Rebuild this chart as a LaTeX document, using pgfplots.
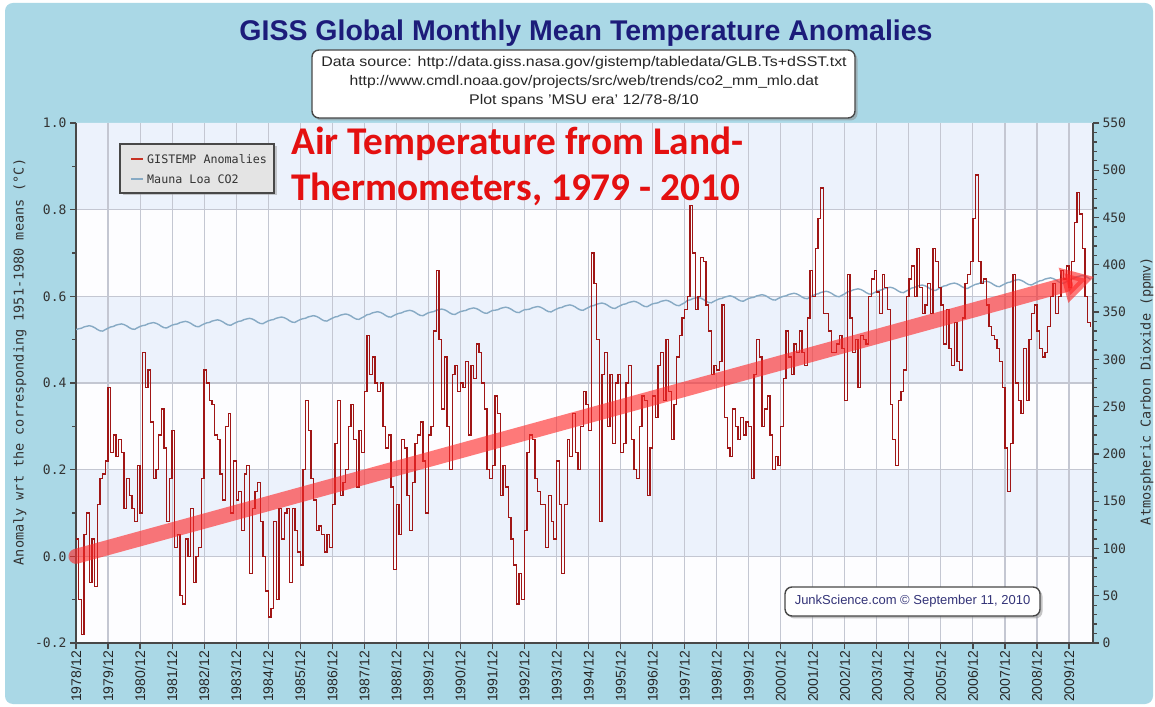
\documentclass[border=0pt]{standalone}
\usepackage{pgfplots}
\pgfplotsset{compat=1.18}
\usepackage{pgfplotstable}
\usepackage{fontspec}
\setmainfont{Liberation Sans}
\newfontfamily\monofont{DejaVu Sans Mono}
\newfontfamily\calfont{Carlito}
\usetikzlibrary{shadows,arrows.meta}

\definecolor{bgblue}{RGB}{170,216,230}
\definecolor{bandblue}{RGB}{236,242,252}
\definecolor{bandwhite}{RGB}{253,253,255}
\definecolor{gridc}{RGB}{196,199,210}
\definecolor{titleblue}{RGB}{28,28,122}
\definecolor{tempred}{RGB}{160,22,22}
\definecolor{co2blue}{RGB}{135,170,196}
\definecolor{arrowred}{RGB}{255,40,40}
\definecolor{annred}{RGB}{228,16,16}
\definecolor{axisgrey}{RGB}{72,72,72}
\definecolor{legendgrey}{RGB}{228,228,228}
\definecolor{navytext}{RGB}{52,52,120}
\definecolor{legred}{RGB}{200,50,35}

\pgfplotstableread{
m t c
0 0.04 331.5
1 -0.10 332.4
2 -0.18 332.9
3 0.05 334.3
4 0.10 335.0
5 -0.06 335.6
6 0.04 334.9
7 -0.07 333.5
8 0.12 331.6
9 0.18 330.2
10 0.19 329.9
11 0.22 331.5
12 0.39 332.9
13 0.24 334.3
14 0.28 334.8
15 0.23 336.2
16 0.27 336.9
17 0.24 337.5
18 0.11 336.8
19 0.18 335.4
20 0.14 333.5
21 0.11 332.1
22 0.08 331.8
23 0.21 333.4
24 0.10 334.8
25 0.47 335.7
26 0.39 336.2
27 0.43 337.6
28 0.31 338.3
29 0.18 338.9
30 0.20 338.2
31 0.28 336.8
32 0.34 334.9
33 0.25 333.5
34 0.08 333.2
35 0.18 334.8
36 0.29 336.2
37 0.02 337.0
38 0.05 337.5
39 -0.09 338.9
40 -0.11 339.6
41 0.04 340.2
42 0.00 339.5
43 0.11 338.1
44 -0.06 336.2
45 0.00 334.8
46 0.02 334.5
47 0.18 336.1
48 0.43 337.5
49 0.40 338.6
50 0.36 339.1
51 0.35 340.5
52 0.28 341.2
53 0.27 341.8
54 0.19 341.1
55 0.13 339.7
56 0.30 337.8
57 0.33 336.4
58 0.10 336.1
59 0.22 337.7
60 0.13 339.1
61 0.15 340.2
62 0.06 340.7
63 0.19 342.1
64 0.21 342.8
65 -0.04 343.4
66 0.11 342.7
67 0.15 341.3
68 0.17 339.4
69 0.08 338.0
70 0.00 337.7
71 -0.08 339.3
72 -0.14 340.7
73 -0.12 341.6
74 0.08 342.1
75 -0.10 343.5
76 0.11 344.2
77 0.04 344.8
78 0.10 344.1
79 0.11 342.7
80 -0.06 340.8
81 0.11 339.4
82 0.06 339.1
83 0.01 340.7
84 -0.02 342.1
85 0.20 343.0
86 0.36 343.5
87 0.29 344.9
88 0.18 345.6
89 0.13 346.2
90 0.06 345.5
91 0.07 344.1
92 0.05 342.2
93 0.01 340.8
94 0.05 340.5
95 0.02 342.1
96 0.12 343.5
97 0.26 344.8
98 0.36 345.3
99 0.14 346.7
100 0.17 347.4
101 0.20 348.0
102 0.30 347.3
103 0.35 345.9
104 0.27 344.0
105 0.16 342.6
106 0.29 342.3
107 0.24 343.9
108 0.38 345.3
109 0.51 347.2
110 0.42 347.7
111 0.46 349.1
112 0.40 349.8
113 0.38 350.4
114 0.40 349.7
115 0.30 348.3
116 0.25 346.4
117 0.28 345.0
118 0.16 344.7
119 -0.03 346.3
120 0.12 347.7
121 0.05 348.7
122 0.27 349.2
123 0.25 350.6
124 0.14 351.3
125 0.06 351.9
126 0.17 351.2
127 0.26 349.8
128 0.28 347.9
129 0.31 346.5
130 0.22 346.2
131 0.10 347.8
132 0.28 349.2
133 0.30 350.0
134 0.52 350.5
135 0.66 351.9
136 0.50 352.6
137 0.34 353.2
138 0.46 352.5
139 0.30 351.1
140 0.20 349.2
141 0.42 347.8
142 0.44 347.5
143 0.38 349.1
144 0.40 350.5
145 0.39 351.2
146 0.45 351.7
147 0.28 353.1
148 0.44 353.8
149 0.41 354.4
150 0.49 353.7
151 0.47 352.3
152 0.40 350.4
153 0.34 349.0
154 0.20 348.7
155 0.18 350.3
156 0.21 351.7
157 0.37 352.0
158 0.33 352.5
159 0.14 353.9
160 0.21 354.6
161 0.16 355.2
162 0.09 354.5
163 0.04 353.1
164 -0.02 351.2
165 -0.11 349.8
166 -0.04 349.5
167 -0.10 351.1
168 0.06 352.5
169 0.24 352.7
170 0.28 353.2
171 0.27 354.6
172 0.18 355.3
173 0.15 355.9
174 0.12 355.2
175 0.12 353.8
176 0.02 351.9
177 0.14 350.5
178 0.08 350.2
179 0.04 351.8
180 0.22 353.2
181 0.12 354.4
182 -0.04 354.9
183 0.12 356.3
184 0.27 357.0
185 0.23 357.6
186 0.33 356.9
187 0.24 355.5
188 0.20 353.6
189 0.30 352.2
190 0.38 351.9
191 0.35 353.5
192 0.29 354.9
193 0.70 356.4
194 0.63 356.9
195 0.50 358.3
196 0.08 359.0
197 0.42 359.6
198 0.47 358.9
199 0.30 357.5
200 0.42 355.6
201 0.26 354.2
202 0.40 353.9
203 0.42 355.5
204 0.24 356.9
205 0.26 358.2
206 0.40 358.7
207 0.44 360.1
208 0.27 360.8
209 0.20 361.4
210 0.18 360.7
211 0.30 359.3
212 0.37 357.4
213 0.36 356.0
214 0.14 355.7
215 0.25 357.3
216 0.37 358.7
217 0.32 359.3
218 0.44 359.8
219 0.47 361.2
220 0.36 361.9
221 0.50 362.5
222 0.38 361.8
223 0.27 360.4
224 0.35 358.5
225 0.46 357.1
226 0.51 356.8
227 0.55 358.4
228 0.57 359.8
229 0.60 362.3
230 0.81 362.8
231 0.70 364.2
232 0.57 364.9
233 0.60 365.5
234 0.69 364.8
235 0.68 363.4
236 0.58 361.5
237 0.52 360.1
238 0.42 359.8
239 0.44 361.4
240 0.43 362.8
241 0.45 364.0
242 0.58 364.5
243 0.32 365.9
244 0.25 366.6
245 0.23 367.2
246 0.34 366.5
247 0.30 365.1
248 0.27 363.2
249 0.32 361.8
250 0.28 361.5
251 0.31 363.1
252 0.30 364.5
253 0.18 365.2
254 0.42 365.7
255 0.50 367.1
256 0.46 367.8
257 0.30 368.4
258 0.34 367.7
259 0.37 366.3
260 0.28 364.4
261 0.20 363.0
262 0.23 362.7
263 0.21 364.3
264 0.30 365.7
265 0.41 366.7
266 0.52 367.2
267 0.46 368.6
268 0.42 369.3
269 0.49 369.9
270 0.47 369.2
271 0.52 367.8
272 0.47 365.9
273 0.44 364.5
274 0.55 364.2
275 0.66 365.8
276 0.60 367.2
277 0.71 368.8
278 0.78 369.3
279 0.85 370.7
280 0.56 371.4
281 0.56 372.0
282 0.52 371.3
283 0.47 369.9
284 0.47 368.0
285 0.49 366.6
286 0.51 366.3
287 0.48 367.9
288 0.36 369.3
289 0.65 371.4
290 0.55 371.9
291 0.47 373.3
292 0.50 374.0
293 0.39 374.6
294 0.51 373.9
295 0.50 372.5
296 0.49 370.6
297 0.60 369.2
298 0.64 368.9
299 0.66 370.5
300 0.61 371.9
301 0.56 373.1
302 0.65 373.6
303 0.62 375.0
304 0.57 375.7
305 0.35 376.3
306 0.27 375.6
307 0.21 374.2
308 0.36 372.3
309 0.38 370.9
310 0.43 370.6
311 0.60 372.2
312 0.64 373.6
313 0.67 375.4
314 0.60 375.9
315 0.71 377.3
316 0.62 378.0
317 0.56 378.6
318 0.58 377.9
319 0.63 376.5
320 0.56 374.6
321 0.71 373.2
322 0.68 372.9
323 0.62 374.5
324 0.58 375.9
325 0.49 377.5
326 0.57 378.0
327 0.48 379.4
328 0.44 380.1
329 0.54 380.7
330 0.45 380.0
331 0.43 378.6
332 0.55 376.7
333 0.63 375.3
334 0.65 375.0
335 0.68 376.6
336 0.78 378.0
337 0.88 379.4
338 0.68 379.9
339 0.63 381.3
340 0.64 382.0
341 0.58 382.6
342 0.53 381.9
343 0.51 380.5
344 0.50 378.6
345 0.48 377.2
346 0.45 376.9
347 0.39 378.5
348 0.25 379.9
349 0.15 381.2
350 0.26 381.7
351 0.65 383.1
352 0.40 383.8
353 0.36 384.4
354 0.33 383.7
355 0.48 382.3
356 0.36 380.4
357 0.50 379.0
358 0.56 378.7
359 0.58 380.3
360 0.52 381.7
361 0.48 383.0
362 0.46 383.5
363 0.47 384.9
364 0.53 385.6
365 0.60 386.2
366 0.63 385.5
367 0.56 384.1
368 0.60 382.2
369 0.66 380.8
370 0.64 380.5
371 0.67 382.1
372 0.62 383.5
373 0.68 385.5
374 0.77 386.0
375 0.84 387.4
376 0.79 388.1
377 0.71 388.7
378 0.60 388.0
379 0.54 386.6
380 0.53 384.7
}\data

\begin{document}
\begin{tikzpicture}[x=1pt,y=1pt]
\useasboundingbox (0,0) rectangle (1155,706);
\fill[white] (0,0) rectangle (1155,706);
\fill[bgblue,rounded corners=8pt] (5,2) rectangle (1153,703);

% title
\node[anchor=base, font=\fontsize{28.5}{30}\selectfont\bfseries, text=titleblue, inner sep=0pt] at (586,665) {GISS Global Monthly Mean Temperature Anomalies};

% data source box
\node[draw=axisgrey, line width=1.4pt, fill=white, rounded corners=7pt, minimum width=543pt, minimum height=68pt, inner sep=0pt,
      drop shadow={shadow xshift=2.5pt, shadow yshift=-2.5pt, fill=black!45}] at (583.5,622) {};
\node[anchor=base, font=\fontsize{14}{15}\selectfont, text=black!85, inner sep=0pt] at (584,639) {\scalebox{1.14}[1]{Data source: http://data.giss.nasa.gov/gistemp/tabledata/GLB.Ts+dSST.txt}};
\node[anchor=base, font=\fontsize{14}{15}\selectfont, text=black!85, inner sep=0pt] at (584,620) {\scalebox{1.12}[1]{http://www.cmdl.noaa.gov/projects/src/web/trends/co2\_mm\_mlo.dat}};
\node[anchor=base, font=\fontsize{14}{15}\selectfont, text=black!85, inner sep=0pt] at (584,601) {\scalebox{1.14}[1]{Plot spans 'MSU era' 12/78-8/10}};

% axis A : background bands, grid, left and bottom axes
\begin{axis}[
  axis on top,
  at={(76pt,63pt)}, anchor=south west,
  scale only axis, width=1017pt, height=520pt,
  xmin=0, xmax=381, ymin=-0.2, ymax=1.0,
  axis x line*=bottom, axis y line*=left,
  axis line style={axisgrey, line width=2pt, -},
  xtick={0,12,...,372},
  xticklabels={1978/12,1979/12,1980/12,1981/12,1982/12,1983/12,1984/12,1985/12,1986/12,1987/12,1988/12,1989/12,1990/12,1991/12,1992/12,1993/12,1994/12,1995/12,1996/12,1997/12,1998/12,1999/12,2000/12,2001/12,2002/12,2003/12,2004/12,2005/12,2006/12,2007/12,2008/12,2009/12},
  x tick label style={rotate=90, anchor=east, font=\fontsize{14}{14}\selectfont, text=black!85, inner sep=2pt},
  ytick={-0.2,0,0.2,0.4,0.6,0.8,1.0},
  yticklabels={-0.2,0.0,0.2,0.4,0.6,0.8,1.0},
  minor ytick={-0.1,0.1,0.3,0.5,0.7,0.9},
  y tick label style={font=\monofont\fontsize{13}{13}\selectfont, text=black!80},
  tick align=outside,
  major tick length=6pt, minor tick length=4pt,
  tick style={axisgrey, line width=1.2pt},
]
\addplot[draw=none, fill=bandblue, forget plot] coordinates {(0,0.8) (381,0.8) (381,1.0) (0,1.0) (0,0.8)};
\addplot[draw=none, fill=bandwhite, forget plot] coordinates {(0,0.6) (381,0.6) (381,0.8) (0,0.8) (0,0.6)};
\addplot[draw=none, fill=bandblue, forget plot] coordinates {(0,0.4) (381,0.4) (381,0.6) (0,0.6) (0,0.4)};
\addplot[draw=none, fill=bandwhite, forget plot] coordinates {(0,0.2) (381,0.2) (381,0.4) (0,0.4) (0,0.2)};
\addplot[draw=none, fill=bandblue, forget plot] coordinates {(0,0.0) (381,0.0) (381,0.2) (0,0.2) (0,0.0)};
\addplot[draw=none, fill=bandwhite, forget plot] coordinates {(0,-0.2) (381,-0.2) (381,0.0) (0,0.0) (0,-0.2)};
\pgfplotsinvokeforeach{12,24,...,372}{\addplot[gridc, line width=1.1pt, forget plot] coordinates {(#1,-0.2) (#1,1.0)};}
\pgfplotsinvokeforeach{0,0.2,0.4,0.6,0.8}{\addplot[gridc, line width=1.1pt, forget plot] coordinates {(0,#1) (381,#1)};}
\end{axis}

% axis B : CO2 on the right axis
\begin{axis}[
  at={(76pt,63pt)}, anchor=south west,
  scale only axis, width=1017pt, height=520pt,
  xmin=0, xmax=381, ymin=0, ymax=550,
  axis x line=none, axis y line*=right,
  axis line style={axisgrey, line width=2pt, -},
  ytick={0,50,100,150,200,250,300,350,400,450,500,550},
  yticklabels={0,50,100,150,200,250,300,350,400,450,500,550},
  minor y tick num=4,
  y tick label style={font=\monofont\fontsize{13}{13}\selectfont, text=black!80},
  tick align=outside,
  major tick length=6pt, minor tick length=3.5pt,
  tick style={axisgrey, line width=1.2pt},
]
\addplot[co2blue, line width=1.4pt, no marks] table[x=m, y=c] {\data};
\end{axis}

% axis C : temperature and trend arrow
\begin{axis}[
  at={(76pt,63pt)}, anchor=south west,
  scale only axis, width=1017pt, height=520pt,
  xmin=0, xmax=381, ymin=-0.2, ymax=1.0,
  hide axis, clip=false,
]
\addplot[tempred, line width=1.3pt, const plot, no marks] table[x=m, y=t] {\data};
\addplot[arrowred, opacity=0.62, line width=15pt, line cap=round, -{Triangle[length=32pt,width=34pt]}, forget plot] coordinates {(0,0) (381.5,0.645)};
\end{axis}

% legend
\node[draw=axisgrey, line width=1.3pt, fill=legendgrey, minimum width=154pt, minimum height=49pt, inner sep=0pt,
      drop shadow={shadow xshift=2.5pt, shadow yshift=-2.5pt, fill=black!40}] at (197,537.5) {};
\draw[legred, line width=2.2pt] (131,547) -- (143,547);
\draw[co2blue, line width=2.2pt] (131,527) -- (143,527);
\node[anchor=west, font=\monofont\fontsize{11.7}{13}\selectfont, text=black!80, inner sep=0pt] at (147,547) {GISTEMP Anomalies};
\node[anchor=west, font=\monofont\fontsize{11.7}{13}\selectfont, text=black!80, inner sep=0pt] at (147,527) {Mauna Loa CO2};

% annotation
\node[anchor=base west, font=\calfont\bfseries\fontsize{39.3}{42}\selectfont, text=annred, inner sep=0pt] at (291,551) {Air Temperature from Land-};
\node[anchor=base west, font=\calfont\bfseries\fontsize{39.3}{42}\selectfont, text=annred, inner sep=0pt] at (291,505) {Thermometers, 1979 - 2010};

% axis titles
\node[rotate=90, font=\monofont\fontsize{13.5}{14}\selectfont, text=black!80] at (20,344) {Anomaly wrt the corresponding 1951-1980 means (°C)};
\node[rotate=90, font=\monofont\fontsize{13.5}{14}\selectfont, text=black!80] at (1147,315) {Atmospheric Carbon Dioxide (ppmv)};

% credit box
\node[draw=axisgrey, line width=1.4pt, fill=white, rounded corners=7pt, minimum width=255pt, minimum height=29pt, inner sep=0pt,
      font=\fontsize{13}{14}\selectfont, text=navytext,
      drop shadow={shadow xshift=2.5pt, shadow yshift=-2.5pt, fill=black!45}] at (912.5,104.5) {JunkScience.com \textcopyright{} September 11, 2010};
\end{tikzpicture}
\end{document}
